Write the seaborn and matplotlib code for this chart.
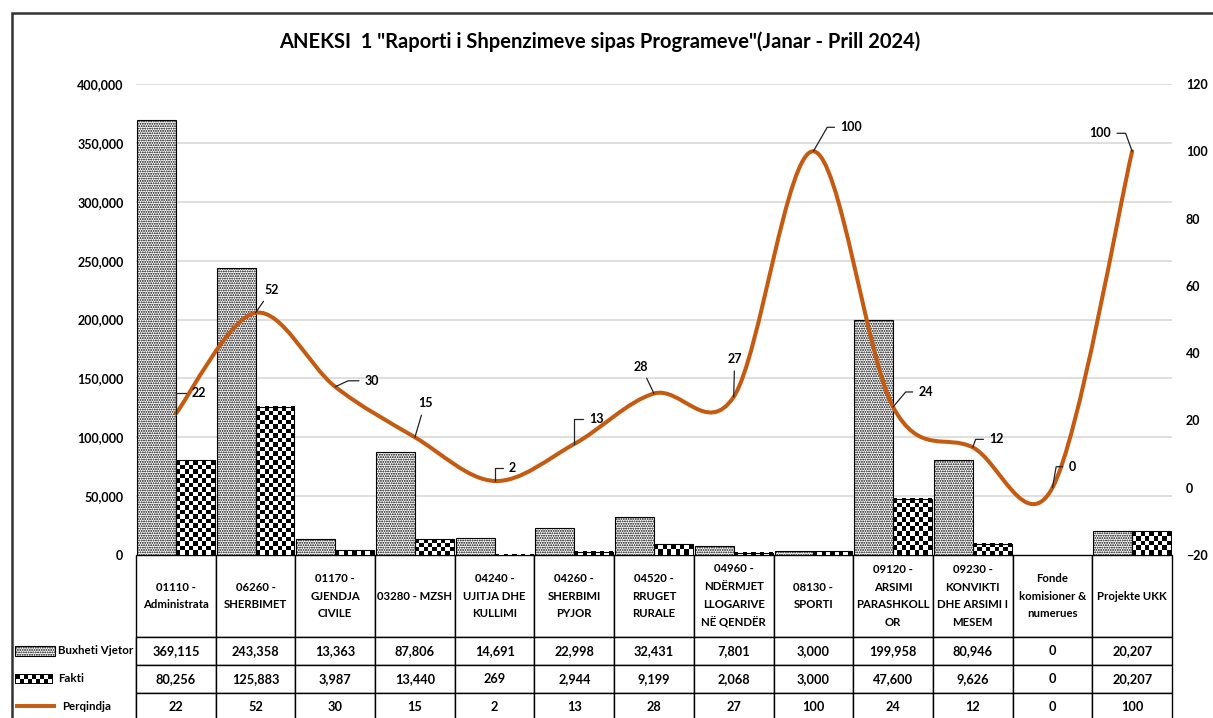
import numpy as np
import pandas as pd
import matplotlib
matplotlib.use("Agg")
import matplotlib.pyplot as plt
import seaborn as sns
from matplotlib.path import Path
from matplotlib.patches import PathPatch, Rectangle
from matplotlib.lines import Line2D
from matplotlib.ticker import FuncFormatter, MultipleLocator

# Data
programs = [
    "01110 -\nAdministrata", "06260 -\nSHERBIMET", "01170 -\nGJENDJA\nCIVILE",
    "03280 - MZSH", "04240 -\nUJITJA DHE\nKULLIMI", "04260 -\nSHERBIMI\nPYJOR",
    "04520 -\nRRUGET\nRURALE", "04960 -\nNDËRMJET\nLLOGARIVE\nNË QENDËR",
    "08130 -\nSPORTI", "09120 -\nARSIMI\nPARASHKOLL\nOR",
    "09230 -\nKONVIKTI\nDHE ARSIMI I\nMESEM", "Fonde\nkomisioner &\nnumerues",
    "Projekte UKK",
]
buxheti = [369115, 243358, 13363, 87806, 14691, 22998, 32431, 7801, 3000, 199958, 80946, 0, 20207]
fakti = [80256, 125883, 3987, 13440, 269, 2944, 9199, 2068, 3000, 47600, 9626, 0, 20207]
perqindja = [22, 52, 30, 15, 2, 13, 28, 27, 100, 24, 12, 0, 100]
series_names = ["Buxheti Vjetor", "Fakti", "Perqindja"]
title = 'ANEKSI  1 "Raporti i Shpenzimeve sipas Programeve"(Janar - Prill 2024)'

# label offsets (pixels) and leader style for the Perqindja labels
label_layout = [
    (23, 21, "angle,angleA=0,angleB=90,rad=0"),
    (16, 23, "arc3"),
    (37, 6, "angle,angleA=0,angleB=25,rad=0"),
    (10, 34, "arc3"),
    (18, 13, "angle,angleA=0,angleB=90,rad=0"),
    (22, 25, "angle,angleA=0,angleB=90,rad=0"),
    (-13, 27, "arc3"),
    (1, 38, "arc3"),
    (38, 24, "angle,angleA=0,angleB=60,rad=0"),
    (33, 15, "angle,angleA=0,angleB=50,rad=0"),
    (24, 8, "angle,angleA=0,angleB=70,rad=0"),
    (20, 21, "angle,angleA=0,angleB=80,rad=0"),
    (-32, 18, "angle,angleA=0,angleB=110,rad=0"),
]

orange = "#C55A11"
dots = "......."

sns.set_style("white")
plt.rcParams["font.family"] = ["Lato", "DejaVu Sans"]
plt.rcParams["font.weight"] = "bold"
plt.rcParams["text.color"] = "black"
plt.rcParams["ytick.color"] = "black"
plt.rcParams["hatch.linewidth"] = 0.9

W, H = 1213, 718
fig = plt.figure(figsize=(W / 100, H / 100), dpi=100)
ax = fig.add_axes([136 / W, 1 - 555 / H, 1036 / W, 471 / H])

n = len(programs)
df = pd.DataFrame({
    "program": programs * 2,
    "vlera": buxheti + fakti,
    "seria": [series_names[0]] * n + [series_names[1]] * n,
})
sns.barplot(data=df, x="program", y="vlera", hue="seria", width=0.975,
            palette=["white", "white"], saturation=1, edgecolor="black",
            linewidth=0.8, legend=False, ax=ax)

ax.set_xlim(-0.5, n - 0.5)
ax.set_ylim(0, 400000)
px_x = 1036 / n
px_y = 471 / 400000

bars = ax.patches
for b in bars[:n]:
    b.set_hatch(dots)
    b.set_zorder(1)
# checkerboard fill for Fakti
for b in bars[n:2 * n]:
    b.set_facecolor("none")
    b.set_zorder(1.1)
    h = b.get_height()
    if h <= 0:
        continue
    x0 = b.get_x()
    w = b.get_width()
    cols = max(1, int(round(w * px_x / 4.5)))
    rows = max(1, int(round(h * px_y / 4.5)))
    arr = (np.add.outer(np.arange(rows), np.arange(cols)) % 2).astype(float)
    ax.imshow(arr, extent=(x0, x0 + w, 0, h), cmap="gray", vmin=0, vmax=1,
              interpolation="nearest", aspect="auto", zorder=0.9)

ax.set_xlim(-0.5, n - 0.5)
ax.set_ylim(0, 400000)
ax.yaxis.set_major_locator(MultipleLocator(50000))
ax.yaxis.set_major_formatter(FuncFormatter(lambda v, p: f"{int(v):,}"))
ax.set_axisbelow(True)
ax.grid(axis="y", color="#d9d9d9", lw=1.2)
ax.set_xticks(range(n))
ax.set_xticklabels([])
ax.set_xlabel("")
ax.set_ylabel("")
ax.tick_params(axis="y", length=0, pad=9, labelsize=9)
ax.tick_params(axis="x", length=0)
for s in ax.spines.values():
    s.set_visible(False)

# secondary axis with smoothed line
ax2 = ax.twinx()
ax2.set_ylim(-20, 120)
ax2.yaxis.set_major_locator(MultipleLocator(20))
ax2.tick_params(axis="y", length=0, pad=10, labelsize=9)
for s in ax2.spines.values():
    s.set_visible(False)

xs = np.arange(n, dtype=float)
ys = np.array(perqindja, dtype=float)
verts = [(xs[0], ys[0])]
codes = [Path.MOVETO]
for i in range(n - 1):
    a = i - 1 if i > 0 else i
    d = i + 2 if i + 2 < n else i + 1
    c1 = (xs[i] + (xs[i + 1] - xs[a]) / 6, ys[i] + (ys[i + 1] - ys[a]) / 6)
    c2 = (xs[i + 1] - (xs[d] - xs[i]) / 6, ys[i + 1] - (ys[d] - ys[i]) / 6)
    verts += [c1, c2, (xs[i + 1], ys[i + 1])]
    codes += [Path.CURVE4] * 3
ax2.add_patch(PathPatch(Path(verts, codes), facecolor="none", edgecolor=orange,
                        lw=2.9, capstyle="round", zorder=3))

for i, v in enumerate(perqindja):
    dx, dy, cs = label_layout[i]
    ax2.annotate(str(v), xy=(i, v), xytext=(dx, dy), textcoords="offset pixels",
                 ha="center", va="center", fontsize=9,
                 arrowprops=dict(arrowstyle="-", color="#222222", lw=0.9,
                                 shrinkA=2, shrinkB=0, connectionstyle=cs))

# data table under the chart
cell_text = [[f"{v:,}" for v in buxheti],
             [f"{v:,}" for v in fakti],
             [str(v) for v in perqindja]]
tbl = ax.table(cellText=cell_text, rowLabels=["", "", ""], colLabels=programs,
               cellLoc="center", bbox=[0, -166 / 471, 1, 166 / 471])
tbl.auto_set_font_size(False)
tbl.set_fontsize(9.2)
for (r, c), cell in tbl.get_celld().items():
    cell.set_edgecolor("black")
    cell.set_linewidth(1.0)
    cell.set_width(124 if c == -1 else px_x)
    cell.set_height(82 if r == 0 else 28)
    if r == 0:
        cell.get_text().set_fontsize(8.2)
        cell.get_text().set_linespacing(1.75)

# legend keys inside the table
fig.add_artist(Rectangle((15 / W, 1 - 656 / H), 40 / W, 10 / H, transform=fig.transFigure,
                         facecolor="white", edgecolor="black", hatch=dots, lw=0.8))
key = np.ones((10, 38, 3))
for r in range(1, 9):
    for c in range(1, 37):
        if ((r - 1) // 4 + (c - 1) // 4) % 2 == 0:
            key[r, c] = 0
key[0, :] = 0
key[-1, :] = 0
key[:, 0] = 0
key[:, -1] = 0
fig.figimage(key, xo=15, yo=H - 684, origin="upper", zorder=5)
fig.add_artist(Line2D([15 / W, 56 / W], [1 - 706 / H] * 2, transform=fig.transFigure,
                      color=orange, lw=2.8, solid_capstyle="butt"))
for txt, x, y in [(series_names[0], 58, 651), (series_names[1], 58, 678), (series_names[2], 62, 706)]:
    fig.text(x / W, 1 - y / H, txt, ha="left", va="center", fontsize=8.3)

fig.text(600 / W, 1 - 42 / H, title, ha="center", va="center", fontsize=14.5)
fig.add_artist(Rectangle((12 / W, -0.1), 1.2, 1.1 - 13 / H, transform=fig.transFigure,
                         fill=False, edgecolor="#333333", lw=1.8))

fig.savefig("out.png", dpi=100)
